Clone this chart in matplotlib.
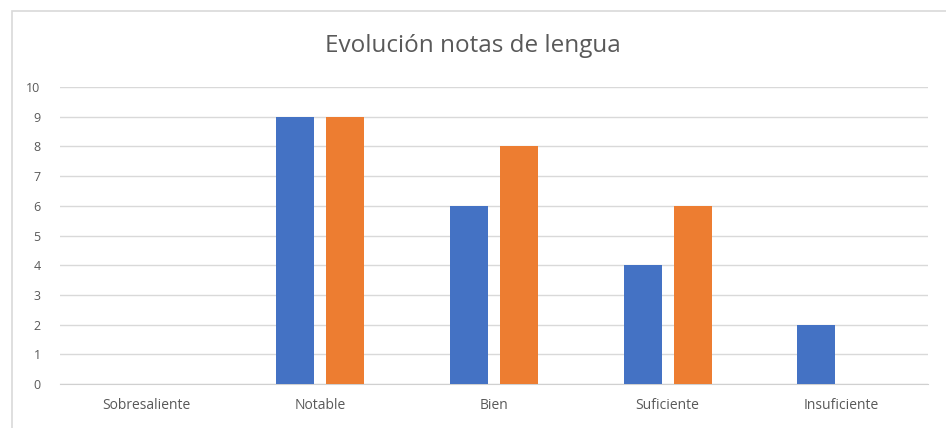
import matplotlib.pyplot as plt
from matplotlib.patches import Rectangle
import numpy as np

categorias = ["Sobresaliente", "Notable", "Bien", "Suficiente", "Insuficiente"]
serie1 = [0, 9, 6, 4, 2]
serie2 = [0, 9, 8, 6, 0]
yticks = list(range(0, 11))

plt.rcParams['font.family'] = ['Open Sans', 'DejaVu Sans']

fig = plt.figure(figsize=(9.46, 4.28), dpi=100)
ax = fig.add_axes([0.0634, 0.1028, 0.9176, 0.6939])

# chart border
fig.patches.append(Rectangle((12 / 946, -0.05), 1.2, 1 - 11 / 428 + 0.05,
                             transform=fig.transFigure, fill=False,
                             edgecolor="#d9d9d9", linewidth=1.2))

x = np.arange(len(categorias))
w = 0.219
ax.bar(x - 0.144, serie1, w, color="#4472C4", zorder=3)
ax.bar(x + 0.144, serie2, w, color="#ED7D31", zorder=3)

ax.set_xlim(-0.5, len(categorias) - 0.5)
ax.set_ylim(0, 10)
ax.set_yticks(yticks)
ax.set_xticks(x)
ax.set_xticklabels(categorias)
ax.tick_params(axis="both", length=0, colors="#595959")
ax.tick_params(axis="x", pad=10, labelsize=10)
ax.tick_params(axis="y", pad=14, labelsize=9)
ax.grid(axis="y", color="#d9d9d9", linewidth=1, zorder=0)
for s in ["top", "right", "left"]:
    ax.spines[s].set_visible(False)
ax.spines["bottom"].set_color("#d0d0d0")

fig.text(0.5, 1 - 46 / 428, "Evolución notas de lengua", ha="center", va="center",
         fontsize=17.5, color="#595959")

fig.savefig("out.png", dpi=100)
